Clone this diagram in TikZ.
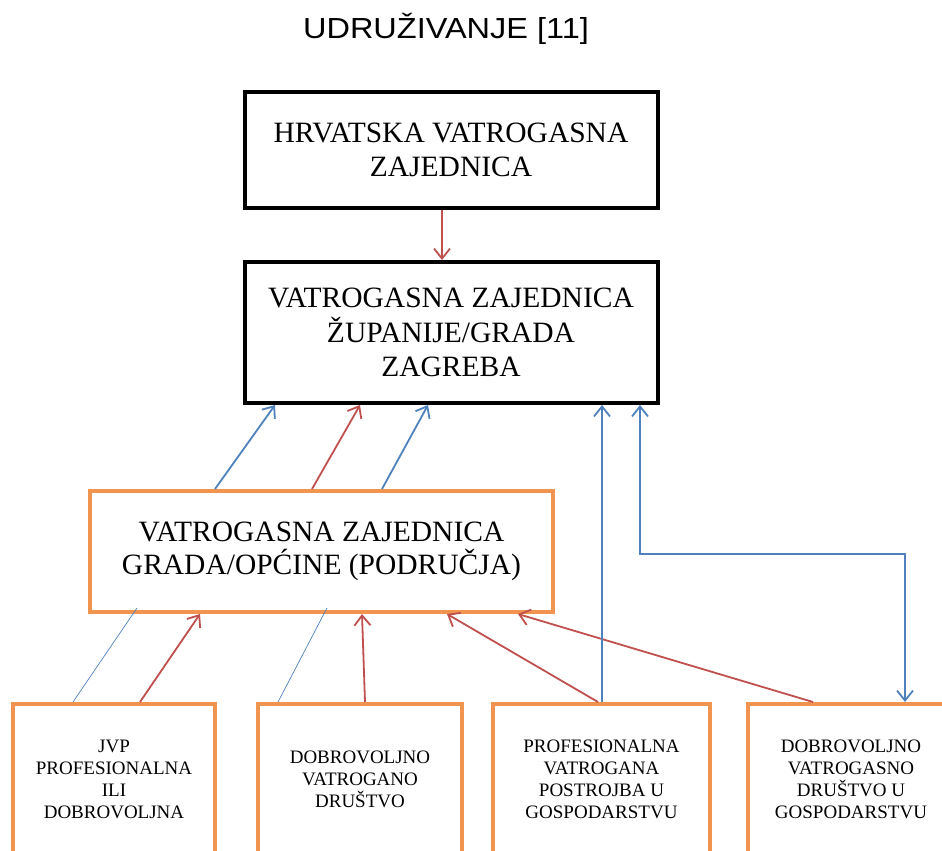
\documentclass[tikz,border=0pt]{standalone}
\usepackage{fontspec}
\setmainfont{Liberation Serif}
\newfontfamily\titlefont[FakeStretch=1.12]{Liberation Sans}
\usetikzlibrary{arrows.meta}

\definecolor{vzorange}{RGB}{240,148,80}
\definecolor{vzblue}{RGB}{79,129,189}
\definecolor{vzred}{RGB}{192,80,77}

\begin{document}
\begin{tikzpicture}[
  x=1pt, y=-1pt,
  blackbox/.style={draw=black, line width=4pt, align=center, inner sep=0pt,
    font=\fontsize{29.5}{34.5}\selectfont, minimum width=413pt},
  orangebox/.style={draw=vzorange, line width=4pt, align=center, inner sep=0pt,
    font=\fontsize{29.5}{33.5}\selectfont},
  unitbox/.style={draw=vzorange, line width=4pt, align=center, inner sep=0pt,
    font=\fontsize{19}{22}\selectfont, minimum height=150pt},
  blue arrow/.style={draw=vzblue, line width=1.8pt, -{Straight Barb[length=10pt,width=16pt]}},
  red arrow/.style={draw=vzred, line width=1.8pt, -{Straight Barb[length=10pt,width=16pt]}},
  thin line/.style={draw=vzblue, line width=0.7pt}
  ]
  \useasboundingbox (0,0) rectangle (942,851);
  \clip (0,0) rectangle (942,851);

  \node[font=\titlefont\fontsize{29}{34}\selectfont] (title) at (446,29) {UDRUŽIVANJE [11]};

  % gornje razine
  \node[blackbox, minimum height=116pt] (hvz) at (451,150) {HRVATSKA VATROGASNA\\ZAJEDNICA};
  \node[blackbox, minimum height=141pt] (zup) at (451,332.5) {VATROGASNA ZAJEDNICA\\ŽUPANIJE/GRADA\\ZAGREBA};
  \node[orangebox, minimum width=463pt, minimum height=121pt] (vzg) at (321.5,551.5)
      {VATROGASNA ZAJEDNICA\\GRADA/OPĆINE (PODRUČJA)};

  % postrojbe i drustva
  \node[unitbox, minimum width=202pt] (jvp) at (114,779) {JVP\\PROFESIONALNA\\ILI\\DOBROVOLJNA};
  \node[unitbox, minimum width=204pt] (dvd) at (360,779) {DOBROVOLJNO\\VATROGANO\\DRUŠTVO};
  \node[unitbox, minimum width=217pt] (pvp) at (601.5,779) {PROFESIONALNA\\VATROGANA\\POSTROJBA U\\GOSPODARSTVU};
  \node[unitbox, minimum width=206pt] (dvdg) at (851,779) {DOBROVOLJNO\\VATROGASNO\\DRUŠTVO U\\GOSPODARSTVU};

  \draw[red arrow] ([xshift=-9pt]hvz.south) -- ([xshift=-9pt]zup.north);

  \draw[blue arrow] ([xshift=-106.5pt]vzg.north) -- ([xshift=-176pt]zup.south);
  \draw[red arrow] ([xshift=-9.5pt]vzg.north) -- ([xshift=-91pt]zup.south);
  \draw[blue arrow] ([xshift=60.5pt]vzg.north) -- ([xshift=-23pt]zup.south);

  \draw[thin line] ([xshift=-41pt]jvp.north) -- ([xshift=-184.5pt,yshift=6pt]vzg.south);
  \draw[red arrow] ([xshift=26pt]jvp.north) -- ([xshift=-121.5pt]vzg.south);
  \draw[thin line] ([xshift=-82pt]dvd.north) -- ([xshift=5.5pt,yshift=6pt]vzg.south);
  \draw[red arrow] ([xshift=5pt]dvd.north) -- ([xshift=40.5pt]vzg.south);
  \draw[red arrow] ([xshift=-3.5pt]pvp.north) -- ([xshift=125.5pt]vzg.south);
  \draw[red arrow] ([xshift=-38pt]dvdg.north) -- ([xshift=196.5pt]vzg.south);

  \draw[blue arrow] ([xshift=0.5pt]pvp.north) -- ([xshift=151pt]zup.south);
  \draw[blue arrow, {Straight Barb[length=10pt,width=16pt]}-{Straight Barb[length=10pt,width=16pt]}]
      ([xshift=189pt]zup.south) -- ++(0,149) -| ([xshift=54pt]dvdg.north);
\end{tikzpicture}
\end{document}
